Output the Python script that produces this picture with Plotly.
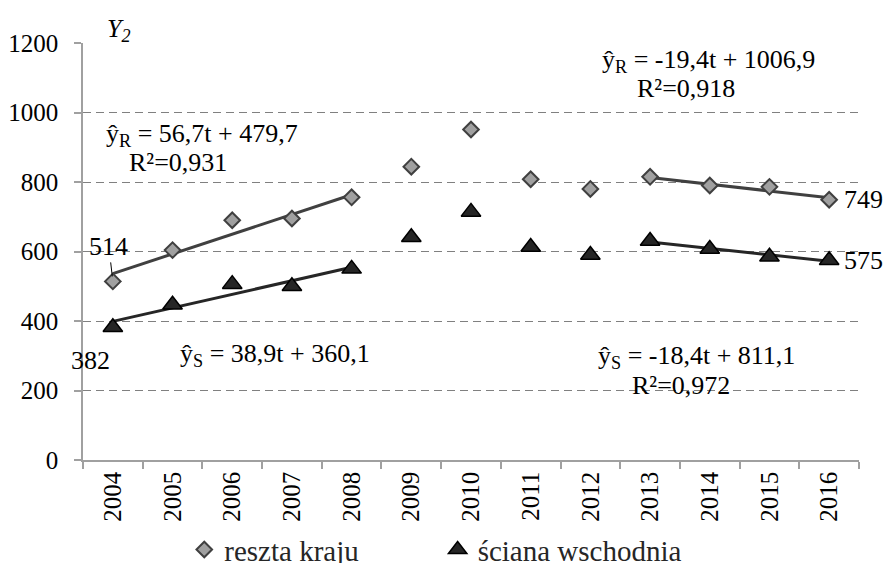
import plotly.graph_objects as go

years = ['2004', '2005', '2006', '2007', '2008', '2009', '2010',
         '2011', '2012', '2013', '2014', '2015', '2016']
reszta_kraju = [514, 604, 690, 695, 756, 844, 951, 808, 780, 815, 790, 786, 749]
sciana_wschodnia = [382, 447, 506, 500, 550, 641, 714, 613, 590, 630, 607, 585, 575]

# trend equations shown on the chart: y = a*t + b, t = 1 for 2004
trend_R1 = (56.7, 479.7)
trend_S1 = (38.9, 360.1)
trend_R2 = (-19.4, 1006.9)
trend_S2 = (-18.4, 811.1)
period1 = [1, 2, 3, 4, 5]
period2 = [10, 11, 12, 13]

y_ticks = [0, 200, 400, 600, 800, 1000, 1200]

FONT = "Liberation Serif"

def trend(coef, ts):
    a, b = coef
    return [years[t - 1] for t in ts], [a * t + b for t in ts]

fig = go.Figure()

for coef, ts, col in [(trend_R1, period1, '#404040'), (trend_R2, period2, '#404040'),
                      (trend_S1, period1, '#262626'), (trend_S2, period2, '#262626')]:
    tx, ty = trend(coef, ts)
    fig.add_trace(go.Scatter(x=tx, y=ty, mode='lines', showlegend=False,
                             line=dict(color=col, width=3), hoverinfo='skip'))

fig.add_trace(go.Scatter(
    x=years, y=reszta_kraju, mode='markers', name='reszta kraju', legend='legend',
    marker=dict(symbol='diamond', size=12, color='#A0A0A0',
                line=dict(color='#404040', width=2))))
fig.add_trace(go.Scatter(
    x=years, y=sciana_wschodnia, mode='markers', name='ściana wschodnia', legend='legend2',
    marker=dict(symbol='triangle-up', size=17, color='#262626',
                line=dict(color='#000000', width=1.5))))

ann_font = dict(family=FONT, size=26, color='black')
annotations = [
    dict(x=1.5, y=935, text='ŷ<sub>R</sub> = 56,7t + 479,7'),
    dict(x=1.09, y=855, text='R²=0,931'),
    dict(x=9.98, y=1148, text='ŷ<sub>R</sub> = -19,4t + 1006,9'),
    dict(x=9.6, y=1068, text='R²=0,918'),
    dict(x=2.71, y=302, text='ŷ<sub>S</sub> = 38,9t + 360,1'),
    dict(x=9.78, y=296, text='ŷ<sub>S</sub> = -18,4t + 811,1'),
    dict(x=9.52, y=213, text='R²=0,972'),
    dict(x=-0.37, y=285, text='382'),
]
for a in annotations:
    fig.add_annotation(xref='x', yref='y', showarrow=False, font=ann_font,
                       xanchor='center', yanchor='middle', **a)

# end-of-series value labels (right of the plot area)
for val in [reszta_kraju[-1], sciana_wschodnia[-1]]:
    fig.add_annotation(xref='paper', yref='y', x=1.033, y=val, text=str(val),
                       showarrow=False, font=ann_font, xanchor='right', yanchor='middle')

fig.add_annotation(x=0, y=514, xref='x', yref='y', text='514', showarrow=True,
                   ax=-4, ay=-35, arrowhead=0, arrowwidth=1, arrowcolor='black',
                   standoff=5, font=ann_font)

fig.add_annotation(xref='paper', yref='paper', x=0.047, y=1.03, text='<i>Y<sub>2</sub></i>',
                   showarrow=False, font=dict(family=FONT, size=26, color='black'),
                   xanchor='center', yanchor='middle')

fig.update_layout(
    width=878, height=555,
    margin=dict(l=75, r=27, t=35, b=103, autoexpand=False),
    plot_bgcolor='white', paper_bgcolor='white',
    font=dict(family=FONT, size=25, color='black'),
    legend=dict(x=0.1305, y=-0.215, xanchor='left', yanchor='middle',
                orientation='h', font=dict(family=FONT, size=29, color='#262626'),
                bgcolor='rgba(0,0,0,0)'),
    legend2=dict(x=0.457, y=-0.215, xanchor='left', yanchor='middle',
                 orientation='h', font=dict(family=FONT, size=29, color='#262626'),
                 bgcolor='rgba(0,0,0,0)'),
)

fig.update_xaxes(type='category', categoryorder='array', categoryarray=years,
                 range=[-0.5, 12.5],
                 tickson='boundaries', ticks='outside', ticklen=7,
                 tickcolor='#A0A0A0', tickwidth=1.5, tickangle=-90,
                 showline=True, linecolor='#A0A0A0', linewidth=1.5,
                 showgrid=False, tickfont=dict(family=FONT, size=25, color='black'))
fig.update_yaxes(range=[0, 1200], tickvals=y_ticks, ticks='outside', ticklen=7,
                 tickcolor='#A0A0A0', tickwidth=1.5,
                 showline=True, linecolor='#A0A0A0', linewidth=1.5,
                 showgrid=True, gridcolor='#808080', griddash='8px,5px', gridwidth=1.2,
                 zeroline=False, ticklabelstandoff=11,
                 tickfont=dict(family=FONT, size=25, color='black'))

fig.write_html("out.html")
